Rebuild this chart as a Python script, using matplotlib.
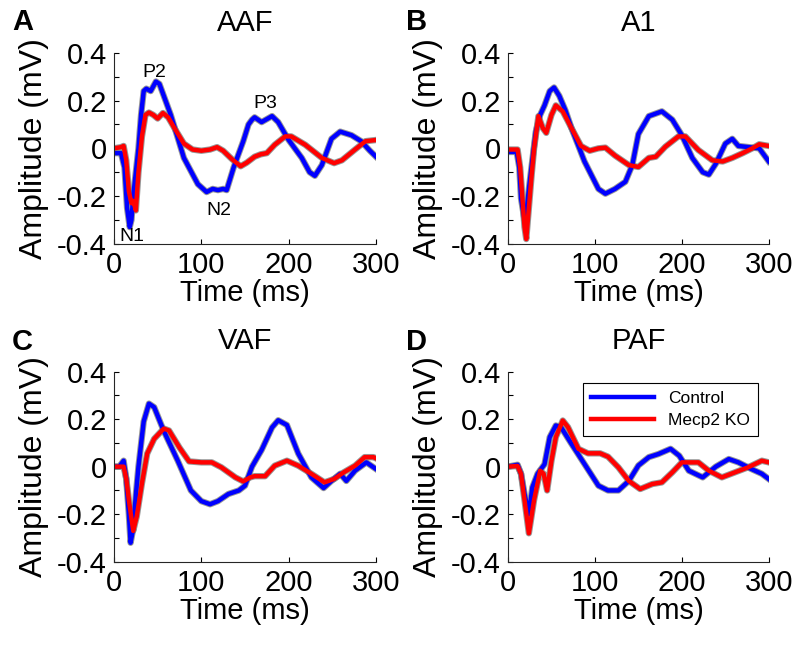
import matplotlib
matplotlib.use("Agg")
import matplotlib.pyplot as plt

plt.rcParams['font.family'] = ['Liberation Sans', 'DejaVu Sans']

# panel titles and letters
titles = ["AAF", "A1", "VAF", "PAF"]
letters = ["A", "B", "C", "D"]

# AAF
aaf_ctl_t = [0, 8, 12, 15, 18, 20, 22, 25, 28, 31, 34, 37, 42, 48, 52, 57, 65, 80, 96, 106, 113, 119, 125, 129, 137, 148, 154, 158, 161, 169, 181, 188, 200, 215, 224, 230, 238, 249, 259, 272, 283, 293, 300]
aaf_ctl_v = [-0.02, -0.02, -0.08, -0.25, -0.33, -0.30, -0.2, -0.1, 0.0, 0.14, 0.24, 0.25, 0.24, 0.28, 0.27, 0.22, 0.14, -0.04, -0.15, -0.183, -0.17, -0.175, -0.17, -0.175, -0.08, 0.03, 0.1, 0.12, 0.13, 0.11, 0.135, 0.11, 0.035, -0.04, -0.1, -0.115, -0.07, 0.04, 0.07, 0.055, 0.03, -0.01, -0.035]
aaf_ko_t = [0, 8, 11, 14, 17, 20, 22, 25, 28, 32, 36, 40, 45, 50, 56, 62, 70, 80, 90, 100, 110, 118, 125, 135, 145, 152, 161, 168, 175, 184, 196, 203, 219, 238, 252, 261, 276, 288, 300]
aaf_ko_v = [0.0, 0.005, 0.01, -0.05, -0.18, -0.23, -0.22, -0.26, -0.1, 0.05, 0.14, 0.15, 0.14, 0.125, 0.148, 0.13, 0.08, 0.02, -0.005, -0.01, -0.005, 0.005, -0.01, -0.045, -0.075, -0.06, -0.035, -0.025, -0.02, 0.015, 0.05, 0.05, 0.015, -0.04, -0.062, -0.05, -0.005, 0.03, 0.035]

# A1
a1_ctl_t = [0, 10, 13, 15, 19, 21, 24, 28, 32, 37, 42, 48, 53, 59, 66, 73, 88, 104, 112, 123, 135, 143, 150, 162, 177, 189, 200, 212, 224, 231, 239, 250, 258, 265, 277, 289, 300]
a1_ctl_v = [-0.015, -0.015, -0.08, -0.21, -0.3, -0.28, -0.17, -0.05, 0.07, 0.14, 0.18, 0.24, 0.255, 0.22, 0.16, 0.085, -0.055, -0.17, -0.19, -0.17, -0.14, -0.07, 0.06, 0.135, 0.155, 0.12, 0.055, -0.04, -0.1, -0.11, -0.065, 0.02, 0.04, 0.01, 0.005, 0.0, -0.055]
a1_ko_t = [0, 11, 14, 17, 19, 21, 24, 27, 30, 35, 40, 44, 50, 55, 63, 73, 84, 94, 104, 112, 123, 139, 150, 162, 170, 181, 196, 204, 219, 235, 247, 258, 270, 281, 289, 300]
a1_ko_v = [-0.005, -0.005, -0.08, -0.23, -0.33, -0.38, -0.25, -0.12, 0.0, 0.135, 0.085, 0.065, 0.14, 0.18, 0.155, 0.085, 0.01, -0.01, 0.0, 0.003, -0.03, -0.07, -0.078, -0.04, -0.035, 0.007, 0.05, 0.05, -0.007, -0.05, -0.055, -0.04, -0.02, 0.0, 0.017, 0.01]

# VAF
vaf_ctl_t = [0, 6, 11, 14, 17, 19, 22, 25, 28, 34, 40, 46, 57, 73, 88, 100, 110, 119, 131, 143, 150, 158, 169, 181, 188, 198, 211, 226, 240, 249, 259, 266, 276, 289, 300]
vaf_ctl_v = [0.0, 0.0, 0.025, -0.05, -0.2, -0.32, -0.26, -0.12, 0.0, 0.19, 0.265, 0.25, 0.15, 0.025, -0.1, -0.145, -0.158, -0.145, -0.115, -0.1, -0.08, 0.0, 0.07, 0.165, 0.195, 0.175, 0.055, -0.045, -0.09, -0.06, -0.03, -0.06, -0.017, 0.018, -0.01]
vaf_ko_t = [0, 11, 14, 17, 22, 26, 32, 38, 46, 57, 63, 75, 86, 100, 112, 123, 139, 148, 156, 161, 173, 184, 198, 211, 226, 241, 252, 263, 276, 287, 297, 300]
vaf_ko_v = [0.0, 0.0, -0.05, -0.14, -0.27, -0.21, -0.07, 0.055, 0.117, 0.16, 0.152, 0.08, 0.022, 0.018, 0.018, -0.003, -0.045, -0.062, -0.045, -0.04, -0.04, 0.004, 0.025, 0.004, -0.03, -0.066, -0.052, -0.024, 0.004, 0.04, 0.04, 0.035]

# PAF
paf_ctl_t = [0, 11, 15, 19, 24, 28, 34, 42, 48, 55, 61, 73, 88, 104, 115, 127, 139, 150, 162, 173, 187, 197, 208, 224, 239, 254, 265, 280, 292, 300]
paf_ctl_v = [0.0, 0.008, -0.03, -0.115, -0.2, -0.087, -0.03, 0.01, 0.124, 0.173, 0.166, 0.096, 0.011, -0.08, -0.1, -0.1, -0.06, 0.005, 0.04, 0.053, 0.075, 0.046, -0.017, -0.045, 0.0, 0.032, 0.018, -0.01, -0.03, -0.052]
paf_ko_t = [0, 11, 15, 19, 24, 30, 37, 41, 45, 50, 55, 63, 69, 81, 92, 106, 115, 127, 139, 152, 166, 177, 189, 200, 219, 231, 246, 261, 276, 292, 300]
paf_ko_v = [0.0, 0.003, -0.03, -0.14, -0.28, -0.14, -0.017, -0.03, -0.1, 0.025, 0.124, 0.194, 0.166, 0.075, 0.056, 0.056, 0.042, -0.003, -0.06, -0.094, -0.073, -0.066, -0.024, 0.018, 0.018, -0.017, -0.045, -0.024, -0.003, 0.025, 0.018]

panels = [
    (aaf_ctl_t, aaf_ctl_v, aaf_ko_t, aaf_ko_v),
    (a1_ctl_t, a1_ctl_v, a1_ko_t, a1_ko_v),
    (vaf_ctl_t, vaf_ctl_v, vaf_ko_t, vaf_ko_v),
    (paf_ctl_t, paf_ctl_v, paf_ko_t, paf_ko_v),
]

# peak labels on AAF
peak_names = ["P2", "N1", "N2", "P3"]
peak_t = [46, 21, 120, 173]
peak_v = [0.30, -0.39, -0.28, 0.17]

fig = plt.figure(figsize=(8, 6.45), dpi=100)
rects = [
    [0.1425, 0.622, 0.3275, 0.296],
    [0.635, 0.622, 0.326, 0.296],
    [0.1425, 0.129, 0.3275, 0.295],
    [0.635, 0.129, 0.326, 0.295],
]

fs = 21
for i, (ct, cv, kt, kv) in enumerate(panels):
    ax = fig.add_axes(rects[i])
    # gray SEM edge under each trace
    ax.plot(ct, cv, color="0.5", lw=4.6, solid_joinstyle="round", alpha=0.8)
    ax.plot(kt, kv, color="0.5", lw=4.6, solid_joinstyle="round", alpha=0.8)
    ax.plot(ct, cv, color=(0, 0, 1), lw=3.2, solid_joinstyle="round", label="Control")
    ax.plot(kt, kv, color=(1, 0, 0), lw=3.2, solid_joinstyle="round", label="Mecp2 KO")
    ax.set_xlim(0, 300)
    ax.set_ylim(-0.4, 0.4)
    ax.set_xticks([0, 100, 200, 300])
    ax.set_yticks([-0.4, -0.2, 0, 0.2, 0.4])
    ax.set_yticklabels(["-0.4", "-0.2", "0", "0.2", "0.4"])
    ax.set_yticks([-0.3, -0.1, 0.1, 0.3], minor=True)
    ax.tick_params(which="both", direction="in", length=3.5, width=0.8, labelsize=fs, pad=5)
    ax.spines["top"].set_visible(False)
    ax.spines["right"].set_visible(False)
    for s in ("left", "bottom"):
        ax.spines[s].set_linewidth(0.8)
        ax.spines[s].set_color("0.15")
    ax.set_xlabel("Time (ms)", fontsize=fs, labelpad=0)
    ax.set_ylabel("Amplitude (mV)", fontsize=23, labelpad=6)
    ax.set_title(titles[i], fontsize=fs, pad=16)
    x0 = 0.015 if i % 2 == 0 else 0.508
    y0 = 0.953 if i < 2 else 0.458
    fig.text(x0, y0, letters[i], fontsize=fs, fontweight="bold")

    if i == 0:
        for name, t, v in zip(peak_names, peak_t, peak_v):
            ax.text(t, v, name, fontsize=14, ha="center", va="baseline")
    if i == 3:
        leg = ax.legend(loc="upper right", bbox_to_anchor=(0.96, 0.942), fontsize=12.5,
                        handlelength=3.6, frameon=True, fancybox=False, framealpha=1,
                        borderpad=0.5, labelspacing=0.35, borderaxespad=0)
        leg.get_frame().set_edgecolor("black")
        leg.get_frame().set_linewidth(0.8)

fig.savefig("out.png", dpi=100)
